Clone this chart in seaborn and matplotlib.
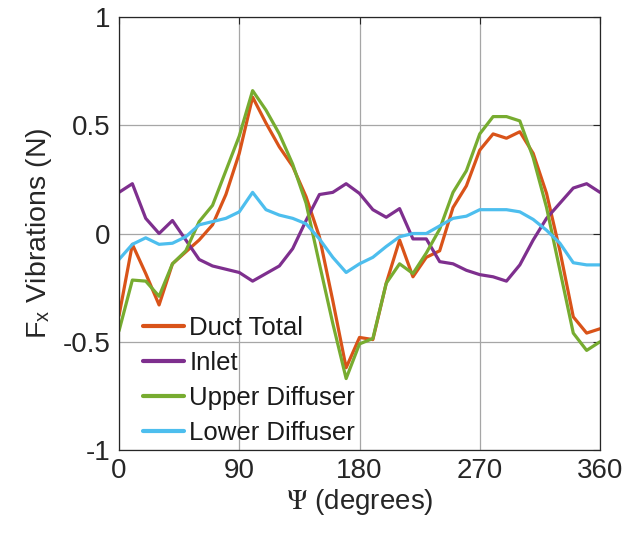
import numpy as np
import pandas as pd
import matplotlib
matplotlib.use("Agg")
import matplotlib.pyplot as plt
import seaborn as sns

angles = list(range(0, 361, 10))
duct_total = [-0.38, -0.05, -0.185, -0.33, -0.14, -0.085, -0.03, 0.04, 0.18, 0.37,
              0.63, 0.51, 0.40, 0.31, 0.17, -0.015, -0.31, -0.62, -0.48, -0.49,
              -0.23, -0.03, -0.20, -0.11, -0.08, 0.12, 0.22, 0.385, 0.46, 0.44,
              0.47, 0.37, 0.185, -0.08, -0.385, -0.46, -0.44]
inlet = [0.19, 0.23, 0.07, 0.0, 0.06, -0.03, -0.12, -0.15, -0.165, -0.18,
         -0.22, -0.185, -0.15, -0.07, 0.06, 0.18, 0.19, 0.23, 0.185, 0.11,
         0.075, 0.115, -0.025, -0.025, -0.13, -0.14, -0.17, -0.19, -0.20, -0.22,
         -0.145, -0.03, 0.07, 0.14, 0.21, 0.23, 0.19]
upper_diffuser = [-0.45, -0.215, -0.22, -0.29, -0.14, -0.08, 0.055, 0.13, 0.29, 0.45,
                  0.66, 0.57, 0.46, 0.32, 0.14, -0.14, -0.415, -0.67, -0.51, -0.485,
                  -0.23, -0.14, -0.185, -0.09, 0.02, 0.19, 0.29, 0.46, 0.54, 0.54,
                  0.52, 0.35, 0.12, -0.17, -0.46, -0.54, -0.50]
lower_diffuser = [-0.12, -0.05, -0.02, -0.05, -0.045, -0.015, 0.04, 0.055, 0.07, 0.10,
                  0.19, 0.11, 0.085, 0.07, 0.045, -0.025, -0.11, -0.18, -0.14, -0.11,
                  -0.06, -0.015, 0.0, 0.0, 0.035, 0.07, 0.08, 0.11, 0.11, 0.11,
                  0.10, 0.065, 0.015, -0.045, -0.135, -0.145, -0.145]

series_names = ["Duct Total", "Inlet", "Upper Diffuser", "Lower Diffuser"]
series_values = [duct_total, inlet, upper_diffuser, lower_diffuser]
colors = ["#D95319", "#7E2F8E", "#77AC30", "#4DBEEE"]
x_ticks = [0, 90, 180, 270, 360]
y_ticks = [-1, -0.5, 0, 0.5, 1]
y_tick_labels = ["-1", "-0.5", "0", "0.5", "1"]

df = pd.concat([pd.DataFrame({"angle": angles, "value": v, "series": n})
                for n, v in zip(series_names, series_values)], ignore_index=True)

sns.set_style("white")
plt.rcParams["font.family"] = ["Liberation Sans", "DejaVu Sans"]
plt.rcParams["mathtext.fontset"] = "stix"

fig = plt.figure(figsize=(6.26, 5.38), dpi=100)
ax = fig.add_axes([119/626, 1-450/538, 481/626, 433/538])

sns.lineplot(data=df, x="angle", y="value", hue="series", hue_order=series_names,
             palette=colors, linewidth=2.3, ax=ax, sort=False)

ax.set_xlim(0, 360)
ax.set_ylim(-1, 1)
ax.set_xticks(x_ticks)
ax.set_yticks(y_ticks)
ax.set_yticklabels(y_tick_labels)
ax.grid(True, color="#a6a6a6", linewidth=0.9)
ax.set_axisbelow(True)
for s in ax.spines.values():
    s.set_color("#262626")
    s.set_linewidth(0.9)
ax.tick_params(direction="in", length=5, width=0.8, colors="#262626",
               labelsize=20, labelcolor="#262626", top=True, right=True,
               labeltop=False, labelright=False, pad=6)
ax.set_xlabel(r"$\Psi$ (degrees)", fontsize=20, color="#262626", labelpad=2)
ax.set_ylabel(r"F$_{\mathregular{x}}$ Vibrations (N)", fontsize=20.5, color="#262626", labelpad=6)

leg = ax.legend(loc="lower left", bbox_to_anchor=(0.05, 0.012), frameon=False,
                fontsize=18.5, handlelength=1.6, handletextpad=0.2,
                labelspacing=0.42, borderaxespad=0, borderpad=0)
for line in leg.get_lines():
    line.set_linewidth(3)
for t in leg.get_texts():
    t.set_color("#1a1a1a")

fig.savefig("out.png", dpi=100)
